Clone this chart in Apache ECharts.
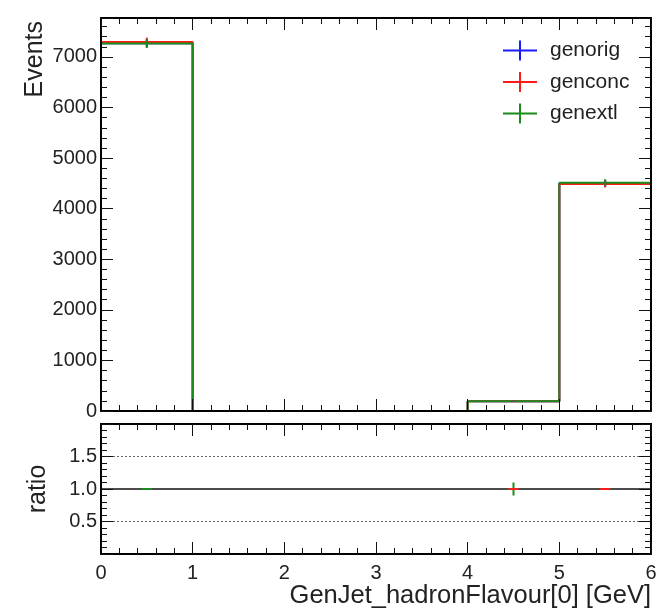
<!DOCTYPE html>
<html><head><meta charset="utf-8">
<script src="https://cdn.jsdelivr.net/npm/echarts@6.0.0/dist/echarts.min.js"></script>
<style>html,body{margin:0;padding:0;background:#fff}#c{width:657px;height:609px}</style>
</head><body><div id="c"></div>
<script>
// ---- data ----
const binEdges   = [0, 1, 2, 3, 4, 5, 6];
const binCenters = [0.5, 1.5, 2.5, 3.5, 4.5, 5.5];
const genorig = [7270, 0, 0, 0, 195, 4500];
const genconc = [7297, 0, 0, 0, 195, 4487];
const genextl = [7265, 0, 0, 0, 195, 4515];
const errOrig = [85, 0, 0, 0, 14, 67];
const errConc = [85, 0, 0, 0, 14, 67];
const errExtl = [85, 0, 0, 0, 14, 67];
// ratio panel points: [x, ratio, error]
const ratioConcX   = [4.5, 5.5];
const ratioConcY   = [1.0, 1.0];
const ratioConcErr = [0.0, 0.0];
const ratioExtlX   = [0.5, 4.5, 5.5];
const ratioExtlY   = [1.0, 1.0, 1.0];
const ratioExtlErr = [0.0, 0.1, 0.0];
const ratioRefLines = [0.5, 1.0, 1.5];
const seriesNames = ['genorig', 'genconc', 'genextl'];

const FONT = '"Liberation Sans", Arial, Helvetica, sans-serif';
const TXT = '#222';
const COL = { genorig: '#1a1aff', genconc: '#ff1a1a', genextl: '#1a8c1a' };

function steps(vals) {
  const d = [];
  for (let i = 0; i < vals.length; i++) d.push([binEdges[i], vals[i]]);
  d.push([binEdges[vals.length], vals[vals.length - 1]]);
  return d;
}
function errData(vals, errs) {
  const d = [];
  for (let i = 0; i < vals.length; i++) if (vals[i] > 0) d.push([binCenters[i], vals[i], errs[i]]);
  return d;
}
function ratioData(xs, ys, es) { return xs.map((x, i) => [x, ys[i], es[i]]); }

function errRender(color, halfW) {
  return function (params, api) {
    const x = api.value(0), y = api.value(1), e = api.value(2);
    const c = api.coord([x, y]);
    const t = api.coord([x, y + e]);
    const b = api.coord([x, y - e]);
    const ch = [];
    if (e > 0) ch.push({ type: 'line', shape: { x1: c[0], y1: t[1], x2: c[0], y2: b[1] }, style: { stroke: color, lineWidth: 2 } });
    if (halfW) ch.push({ type: 'line', shape: { x1: c[0] - halfW, y1: c[1], x2: c[0] + halfW, y2: c[1] }, style: { stroke: color, lineWidth: 2 } });
    return { type: 'group', children: ch };
  };
}

const tick = { show: true, inside: true, length: 12, lineStyle: { color: '#111', width: 1 } };
const minor = { show: true, splitNumber: 5, length: 6, lineStyle: { color: '#111', width: 1 } };
const axLine = { show: true, onZero: false, lineStyle: { color: '#000', width: 2 } };
const lbl = { color: TXT, fontSize: 20, fontFamily: FONT };

const chart = echarts.init(document.getElementById('c'), null, { renderer: 'canvas' });

const series = [];
const vals = { genorig, genconc, genextl };
const errs = { genorig: errOrig, genconc: errConc, genextl: errExtl };
seriesNames.forEach((n, k) => {
  series.push({
    name: n, type: 'line', xAxisIndex: 0, yAxisIndex: 0, step: 'end',
    data: steps(vals[n]), showSymbol: false, symbol: 'none', color: COL[n],
    lineStyle: { color: COL[n], width: 2 }, z: 3 + k, silent: true, animation: false
  });
  series.push({
    name: n, type: 'custom', xAxisIndex: 0, yAxisIndex: 0, color: COL[n],
    renderItem: errRender(COL[n], 0), data: errData(vals[n], errs[n]), z: 6 + k, silent: true, animation: false
  });
});
series.push({
  name: 'refs', type: 'line', xAxisIndex: 2, yAxisIndex: 2, data: [], silent: true, animation: false,
  markLine: {
    symbol: 'none', silent: true, label: { show: false }, animation: false,
    data: ratioRefLines.map(v => ({ yAxis: v, lineStyle: v === 1 ? { type: 'solid', color: '#111', width: 1.5 } : { type: [2, 2], color: '#666', width: 1.2 } }))
  }
});
series.push({
  name: 'genextl', type: 'custom', xAxisIndex: 2, yAxisIndex: 2, color: COL.genextl,
  renderItem: errRender(COL.genextl, 5), data: ratioData(ratioExtlX, ratioExtlY, ratioExtlErr), z: 8, silent: true, animation: false
});
series.push({
  name: 'genconc', type: 'custom', xAxisIndex: 2, yAxisIndex: 2, color: COL.genconc,
  renderItem: errRender(COL.genconc, 5), data: ratioData(ratioConcX, ratioConcY, ratioConcErr), z: 9, silent: true, animation: false
});

chart.setOption({
  animation: false,
  backgroundColor: '#fff',
  grid: [
    { left: 101, top: 18, width: 550, height: 393, outerBoundsMode: 'none', containLabel: false },
    { left: 101, top: 424, width: 550, height: 130, outerBoundsMode: 'none', containLabel: false }
  ],
  xAxis: [
    { type: 'value', gridIndex: 0, z: 20, min: 0, max: 6, interval: 1, position: 'bottom', axisLine: axLine, axisTick: tick, minorTick: minor, axisLabel: { show: false }, splitLine: { show: false } },
    { type: 'value', gridIndex: 0, z: 20, min: 0, max: 6, interval: 1, position: 'top', axisLine: axLine, axisTick: tick, minorTick: minor, axisLabel: { show: false }, splitLine: { show: false } },
    { type: 'value', gridIndex: 1, z: 20, min: 0, max: 6, interval: 1, position: 'bottom', axisLine: axLine, axisTick: tick, minorTick: minor,
      axisLabel: Object.assign({ margin: 9 }, lbl), splitLine: { show: false },
      name: 'GenJet_hadronFlavour[0] [GeV]', nameLocation: 'end', nameGap: 0,
      nameTextStyle: { color: TXT, fontSize: 25.5, fontFamily: FONT, align: 'right', verticalAlign: 'top', padding: [29, 0, 0, 0] } },
    { type: 'value', gridIndex: 1, z: 20, min: 0, max: 6, interval: 1, position: 'top', axisLine: axLine, axisTick: tick, minorTick: minor, axisLabel: { show: false }, splitLine: { show: false } }
  ],
  yAxis: [
    { type: 'value', gridIndex: 0, z: 20, min: 0, max: 7770, interval: 1000, position: 'left', axisLine: axLine, axisTick: tick, minorTick: minor,
      axisLabel: Object.assign({ margin: 4, showMaxLabel: false, formatter: v => (v % 1000 === 0 ? String(v) : '') }, lbl), splitLine: { show: false } },
    { type: 'value', gridIndex: 0, z: 20, min: 0, max: 7770, interval: 1000, position: 'right', axisLine: axLine, axisTick: tick, minorTick: minor, axisLabel: { show: false }, splitLine: { show: false } },
    { type: 'value', gridIndex: 1, z: 20, min: 0, max: 2, interval: 0.5, position: 'left', axisLine: axLine, axisTick: tick, minorTick: minor,
      axisLabel: Object.assign({ margin: 4, showMinLabel: false, showMaxLabel: false, formatter: v => v.toFixed(1) }, lbl), splitLine: { show: false },
      name: 'ratio', nameLocation: 'middle', nameGap: 50, nameRotate: 90,
      nameTextStyle: { color: TXT, fontSize: 25, fontFamily: FONT } },
    { type: 'value', gridIndex: 1, z: 20, min: 0, max: 2, interval: 0.5, position: 'right', axisLine: axLine, axisTick: tick, minorTick: minor, axisLabel: { show: false }, splitLine: { show: false } }
  ],
  legend: {
    data: seriesNames.map(n => ({ name: n, icon: 'path://M0,9H34V11H0Z M16,0H18V20H16Z' })),
    orient: 'vertical', left: 498, top: 35, itemWidth: 34, itemHeight: 20, itemGap: 10.5,
    textStyle: { color: TXT, fontSize: 21, fontFamily: FONT, padding: [0, 0, 0, 8] },
    selectedMode: false
  },
  graphic: [
    { type: 'text', x: 35, y: 21, rotation: Math.PI / 2, style: { text: 'Events', fill: TXT, font: '25px ' + FONT, align: 'right', verticalAlign: 'middle' } }
  ],
  series
});
</script></body></html>
